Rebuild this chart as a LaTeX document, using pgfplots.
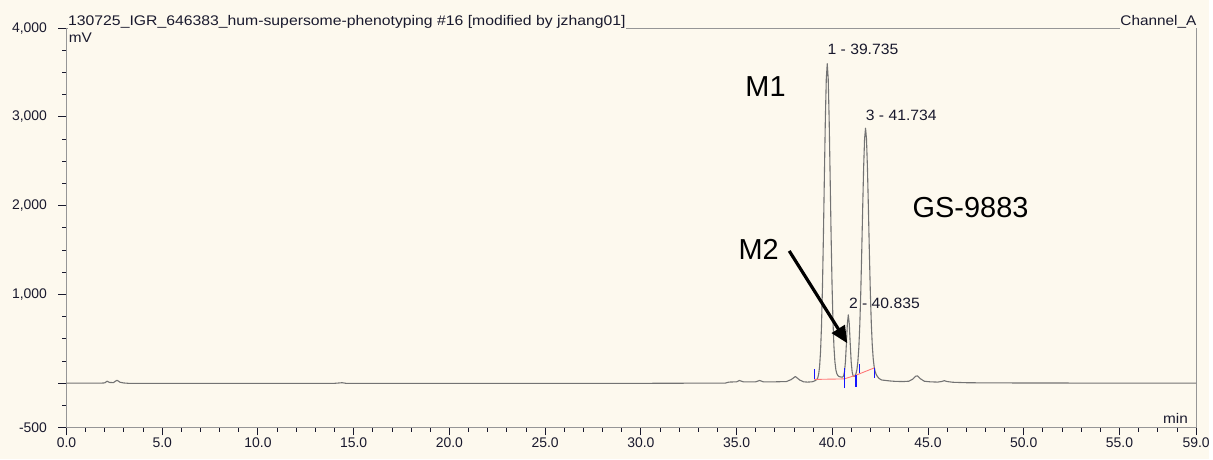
\documentclass[border=0pt]{standalone}
\usepackage{graphicx}
\usepackage{pgfplots}
\pgfplotsset{compat=1.18}
\usepackage{fontspec}
\setmainfont{Liberation Sans}
\usetikzlibrary{arrows.meta}
\definecolor{bg}{RGB}{253,249,238}
\definecolor{trace}{RGB}{115,115,115}
\definecolor{txt}{RGB}{25,25,45}
\definecolor{axgray}{RGB}{150,150,150}
\definecolor{intblue}{RGB}{20,20,255}
\definecolor{intred}{RGB}{255,120,120}

\pgfplotstableread{
x y
0 0
1.8 0
2.0 3
2.12 22
2.25 8
2.45 6
2.64 33
2.8 10
3.0 2
3.3 -3
5 -3
8 -2
10 -2
12 -2
14.0 -2
14.4 5
14.6 -2
18 -2
22 -2
26 -2
30 -2
33 0
34.4 0
34.6 12
35.0 15
35.15 30
35.35 15
36.0 15
36.2 30
36.4 15
37.0 15
37.6 18
37.85 40
38.07 75
38.3 35
38.5 15
38.7 12
38.935 15
38.985 18
39.035 22
39.085 27
39.135 33
39.185 40
39.235 57
39.285 99
39.335 187
39.385 356
39.435 645
39.485 1083
39.535 1664
39.585 2330
39.635 2967
39.685 3430
39.735 3600
39.785 3430
39.835 2967
39.885 2335
39.935 1679
39.985 1113
40.035 690
40.085 411
40.135 242
40.185 151
40.235 107
40.285 87
40.335 77
40.385 73
40.435 70
40.485 68
40.535 69
40.585 81
40.635 126
40.685 242
40.735 446
40.785 669
40.835 770
40.885 669
40.935 445
40.985 241
41.035 127
41.085 83
41.135 77
41.185 84
41.235 107
41.285 153
41.335 243
41.385 403
41.435 656
41.485 1016
41.535 1470
41.585 1967
41.635 2427
41.685 2755
41.735 2873
41.785 2751
41.835 2422
41.885 1966
41.935 1472
41.985 1026
42.035 679
42.085 434
42.135 277
42.185 185
42.235 132
42.285 103
42.335 81
42.385 67
42.435 55
42.485 47
42.535 40
42.6 35
42.8 30
43.0 25
43.3 20
43.7 18
44.0 22
44.2 45
44.35 78
44.45 82
44.6 50
44.8 22
45.1 15
45.5 12
45.7 18
45.85 28
46.0 18
46.3 10
47 5
48 3
50 2
53 1
54 0
59 0
}\chrom

\begin{document}
\begin{tikzpicture}
\fill[bg] (-66.7pt,-32pt) rectangle (1146.3pt,429pt);
\begin{axis}[
  name=ax,
  at={(0,0)}, anchor=south west,
  scale only axis,
  width=1133.6pt, height=400.7pt,
  xmin=0, xmax=59, ymin=-500, ymax=4000,
  axis background/.style={fill=bg},
  axis line style={draw=axgray, line width=1pt},
  tick align=outside,
  tick pos=left,
  major tick length=8pt,
  minor tick length=4pt,
  every tick/.style={draw=txt, line width=0.9pt},
  xtick={0,5,10,15,20,25,30,35,40,45,50,55,59},
  xticklabels={0.0,5.0,10.0,15.0,20.0,25.0,30.0,35.0,40.0,45.0,50.0,55.0,59.0},
  minor xtick={1,2,3,4,6,7,8,9,11,12,13,14,16,17,18,19,21,22,23,24,26,27,28,29,31,32,33,34,36,37,38,39,41,42,43,44,46,47,48,49,51,52,53,54,56,57,58},
  ytick={-500,0,1000,2000,3000,4000},
  yticklabels={-500,,{1,000},{2,000},{3,000},{4,000}},
  minor ytick={-250,250,500,750,1250,1500,1750,2250,2500,2750,3250,3500,3750},
  ticklabel style={font=\fontsize{14}{16}\selectfont, text=txt},
  xticklabel style={yshift=1pt},
  yticklabel style={xshift=-8pt},
  clip=false,
]
\addplot[trace, line width=1.1pt, line join=round] table[x=x,y=y] {\chrom};
\addplot[intred, line width=0.9pt] coordinates {(39.06,42) (40.62,48) (41.24,90) (42.19,172)};
\addplot[intblue, line width=1.2pt] coordinates {(39.06,45) (39.06,157)};
\addplot[intblue, line width=1.2pt] coordinates {(40.62,-56) (40.62,168)};
\addplot[intblue, line width=1.2pt] coordinates {(41.24,-41) (41.24,90)};
\addplot[intblue, line width=1.2pt] coordinates {(41.43,109) (41.43,221)};
\addplot[intblue, line width=1.2pt] coordinates {(42.19,60) (42.19,172)};
\draw[-{Triangle[length=17pt,width=15pt]}, line width=3.2pt, black] (axis cs:37.75,1490) -- (axis cs:40.78,450);
\node[font=\fontsize{29}{32}\selectfont, text=black] at (axis cs:36.51,3339) {M1};
\node[font=\fontsize{29}{32}\selectfont, text=black] at (axis cs:36.15,1510) {M2};
\node[font=\fontsize{29}{32}\selectfont, text=black] at (axis cs:47.22,1981) {GS-9883};
\node[font=\fontsize{15}{17}\selectfont, text=txt] at (axis cs:41.6,3763) {\scalebox{1.05}[1]{1 - 39.735}};
\node[font=\fontsize{15}{17}\selectfont, text=txt] at (axis cs:43.6,3019) {\scalebox{1.05}[1]{3 - 41.734}};
\node[font=\fontsize{15}{17}\selectfont, text=txt] at (axis cs:42.72,898) {\scalebox{1.05}[1]{2 - 40.835}};
\end{axis}
\node[anchor=base west, fill=bg, inner xsep=0pt, inner ysep=1.2pt, font=\fontsize{14}{16}\selectfont, text=txt] at ([xshift=1.5pt,yshift=2.6pt]ax.north west) {\scalebox{1.13}[1]{130725\_IGR\_646383\_hum-supersome-phenotyping \#16 [modified by jzhang01]}};
\node[anchor=base east, fill=bg, inner xsep=0pt, inner ysep=1.2pt, font=\fontsize{14}{16}\selectfont, text=txt] at ([xshift=0.5pt,yshift=2.6pt]ax.north east) {\scalebox{1.1}[1]{Channel\_A}};
\node[anchor=base west, fill=bg, inner sep=0.8pt, font=\fontsize{14}{16}\selectfont, text=txt] at ([xshift=1.5pt,yshift=-14.4pt]ax.north west) {\scalebox{1.1}[1]{mV}};
\node[anchor=base east, inner sep=0pt, font=\fontsize{14}{16}\selectfont, text=txt] at ([xshift=-8pt,yshift=4pt]ax.south east) {\scalebox{1.1}[1]{min}};
\end{tikzpicture}
\end{document}
